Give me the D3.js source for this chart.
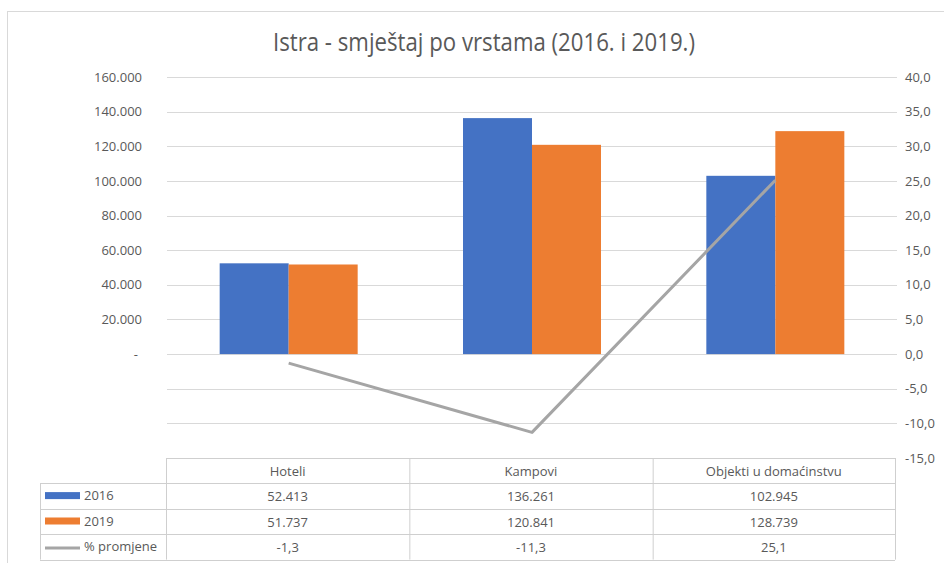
<!DOCTYPE html>
<html>
<head>
<meta charset="utf-8">
<script src="https://cdn.jsdelivr.net/npm/d3@7"></script>
<style>
  body { margin: 0; background: #fff; }
  svg text { font-family: "Open Sans", "Noto Sans", sans-serif; fill: #595959; }
</style>
</head>
<body>
<div id="chart"></div>
<script>
// data
const categories = ['Hoteli', 'Kampovi', 'Objekti u domaćinstvu'];
const seriesNames = ['2016', '2019'];
const values2016 = [52413, 136261, 102945];
const values2019 = [51737, 120841, 128739];
const pctChange = [-1.3, -11.3, 25.1];
const leftTicks = [0, 20000, 40000, 60000, 80000, 100000, 120000, 140000, 160000, -20000, -40000];
const rightTicks = [40, 35, 30, 25, 20, 15, 10, 5, 0, -5, -10, -15];

const width = 944, height = 563;
const colors = { '2016': '#4472c4', '2019': '#ed7d31', line: '#a5a5a5' };

const hr = d3.formatLocale({ decimal: ',', thousands: '.', grouping: [3], currency: ['', ''], minus: '-' });
const fmtInt = hr.format(',.0f');
const fmtPct = hr.format('.1f');

const svg = d3.select('#chart').append('svg')
  .attr('width', width)
  .attr('height', height);

// chart border (runs off the right and bottom edge)
svg.append('rect')
  .attr('x', 7.5).attr('y', 11.5)
  .attr('width', 1000).attr('height', 600)
  .attr('fill', 'none').attr('stroke', '#d9d9d9');

// title
svg.append('text')
  .attr('x', 273).attr('y', 51)
  .attr('textLength', 422)
  .attr('lengthAdjust', 'spacingAndGlyphs')
  .style('font-size', '25px')
  .text('Istra - smještaj po vrstama (2016. i 2019.)');

const plot = { left: 167, right: 897, top: 77, bottom: 458 };

const yLeft = d3.scaleLinear().domain([-60000, 160000]).range([plot.bottom, plot.top]);
const yRight = d3.scaleLinear().domain([-15, 40]).range([plot.bottom, plot.top]);
const x = d3.scaleBand().domain(categories).range([plot.left, plot.right]);
const xInner = d3.scaleBand().domain(seriesNames).range([0, 138]);
const groupOffset = (x.bandwidth() - 138) / 2;

// gridlines
svg.append('g')
  .selectAll('line')
  .data(leftTicks)
  .join('line')
  .attr('x1', plot.left).attr('x2', plot.right)
  .attr('y1', d => Math.round(yLeft(d)) + 0.5)
  .attr('y2', d => Math.round(yLeft(d)) + 0.5)
  .attr('stroke', '#d9d9d9');

// left axis
const axisL = svg.append('g')
  .attr('transform', `translate(${plot.left - 22},0)`)
  .call(d3.axisLeft(yLeft)
    .tickValues(leftTicks.filter(d => d >= 0))
    .tickSize(0)
    .tickFormat(d => d === 0 ? '-' : fmtInt(d)));
axisL.select('.domain').remove();
axisL.selectAll('text').style('font-size', '13px').style('font-family', null).attr('fill', null)
  .attr('dx', d => d === 0 ? -4 : 0);

// right axis
const axisR = svg.append('g')
  .attr('transform', `translate(${plot.right + 5},0)`)
  .call(d3.axisRight(yRight)
    .tickValues(rightTicks)
    .tickSize(0)
    .tickFormat(fmtPct));
axisR.select('.domain').remove();
axisR.selectAll('text').style('font-size', '13px').style('font-family', null).attr('fill', null);

// bars
const series = [values2016, values2019];
seriesNames.forEach((name, s) => {
  svg.append('g')
    .selectAll('rect')
    .data(series[s])
    .join('rect')
    .attr('x', (d, i) => x(categories[i]) + groupOffset + xInner(name))
    .attr('width', xInner.bandwidth())
    .attr('y', d => yLeft(d))
    .attr('height', d => yLeft(0) - yLeft(d))
    .attr('fill', colors[name]);
});

// % change line
const line = d3.line()
  .x((d, i) => x(categories[i]) + x.bandwidth() / 2)
  .y(d => yRight(d));
svg.append('path')
  .datum(pctChange)
  .attr('d', line)
  .attr('fill', 'none')
  .attr('stroke', colors.line)
  .attr('stroke-width', 3)
  .attr('stroke-linejoin', 'round');

// data table
const table = { left: 40, top: 458, rowH: 25.4 };
const colEdges = [plot.left - 1, x(categories[1]) - 1, x(categories[2]) - 1, plot.right - 2];
const rows = [
  { label: '2016', key: '2016', vals: values2016.map(fmtInt) },
  { label: '2019', key: '2019', vals: values2019.map(fmtInt) },
  { label: '% promjene', key: 'line', vals: pctChange.map(fmtPct) }
];
const tg = svg.append('g');
const border = '#cfcfcf';

// header row
tg.append('line').attr('x1', colEdges[0]).attr('x2', colEdges[3])
  .attr('y1', table.top + 0.5).attr('y2', table.top + 0.5).attr('stroke', border);
categories.forEach((c, i) => {
  tg.append('text')
    .attr('x', (colEdges[i] + colEdges[i + 1]) / 2)
    .attr('y', table.top + table.rowH / 2 + 5)
    .attr('text-anchor', 'middle')
    .style('font-size', '13px')
    .text(c);
});
// horizontal lines
for (let r = 1; r <= rows.length + 1; r++) {
  const yy = Math.round(table.top + r * table.rowH) + 0.5;
  tg.append('line').attr('x1', table.left).attr('x2', colEdges[3])
    .attr('y1', yy).attr('y2', yy).attr('stroke', border);
}
// vertical lines
colEdges.forEach(cx => {
  tg.append('line').attr('x1', cx + 0.5).attr('x2', cx + 0.5)
    .attr('y1', table.top).attr('y2', table.top + table.rowH * (rows.length + 1))
    .attr('stroke', border);
});
tg.append('line').attr('x1', table.left + 0.5).attr('x2', table.left + 0.5)
  .attr('y1', table.top + table.rowH).attr('y2', table.top + table.rowH * (rows.length + 1))
  .attr('stroke', border);

rows.forEach((row, r) => {
  const cy = table.top + (r + 1) * table.rowH + table.rowH / 2;
  if (row.key === 'line') {
    tg.append('line').attr('x1', table.left + 5).attr('x2', table.left + 40)
      .attr('y1', cy + 1).attr('y2', cy + 1)
      .attr('stroke', colors.line).attr('stroke-width', 3);
  } else {
    tg.append('rect').attr('x', table.left + 5).attr('y', cy - 4)
      .attr('width', 35).attr('height', 7)
      .attr('fill', colors[row.key]);
  }
  tg.append('text')
    .attr('x', table.left + 44).attr('y', cy + 4)
    .style('font-size', '13px')
    .text(row.label);
  row.vals.forEach((v, i) => {
    tg.append('text')
      .attr('x', (colEdges[i] + colEdges[i + 1]) / 2)
      .attr('y', cy + 5)
      .attr('text-anchor', 'middle')
      .style('font-size', '13px')
      .text(v);
  });
});
</script>
</body>
</html>
